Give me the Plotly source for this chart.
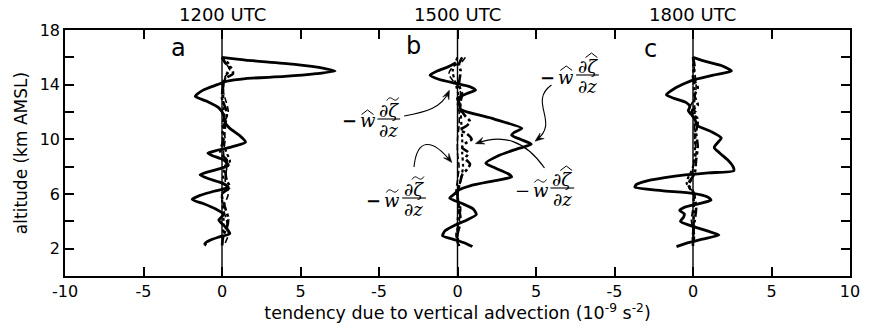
import plotly.graph_objects as go

# ---------------- data ----------------
panel_titles = ["1200 UTC", "1500 UTC", "1800 UTC"]
panel_letters = ["a", "b", "c"]

x_tick_vals = [-10, -5, 0, 5, 10, 15, 20, 25, 30, 35, 40]
x_tick_text = ["-10", "-5", "0", "5", "-5", "0", "5", "-5", "0", "5", "10"]
y_tick_vals = [2, 6, 10, 14, 18]
y_tick_text = ["2", "6", "10", "14", "18"]
y_minor_vals = [4, 8, 12, 16]

# panel a (1200 UTC)
a_hat_alt = [16.0, 15.8, 15.5, 15.2, 15.0, 14.8, 14.6, 14.45, 14.25, 14.0, 13.6, 13.15, 12.8, 12.3, 11.8,
             11.2, 10.8, 10.3, 9.8, 9.5, 9.2, 9.0, 8.8, 8.5, 8.1, 7.8, 7.4, 7.1, 6.8, 6.5, 6.2, 5.9, 5.6,
             5.3, 4.9, 4.5, 4.1, 3.6, 3.1, 2.85, 2.6, 2.35, 2.25]
a_hat_val = [0.0, 1.5, 4.5, 6.5, 7.2, 6.0, 4.0, 1.5, 0.3, -0.3, -1.2, -1.7, -1.0, -0.2, 0.1,
             0.2, 0.5, 1.1, 1.5, 0.8, -0.3, -0.9, -0.6, 0.1, 0.4, -0.3, -1.4, -0.8, 0.0, 0.4, -0.5, -1.4, -1.9,
             -1.2, -0.4, 0.1, -0.2, 0.2, 0.5, -0.2, -0.8, -1.1, -1.0]
a_wh_zt_alt = [16.0, 15.5, 15.0, 14.6, 14.0, 13.0, 12.0, 11.0, 10.0, 9.0, 8.0, 7.0, 6.0, 5.0, 4.0, 3.0, 2.2]
a_wh_zt_val = [0.0, 0.3, 0.5, 0.2, 0.0, 0.2, 0.4, 0.1, 0.2, 0.1, 0.3, 0.2, 0.4, 0.1, 0.3, 0.4, 0.1]
a_wt_zh_alt = [16.0, 15.6, 15.2, 14.8, 14.5, 14.0, 13.0, 12.0, 11.0, 10.0, 9.0, 8.5, 8.0, 7.0, 6.5, 6.0,
               5.0, 4.2, 3.5, 3.0, 2.2]
a_wt_zh_val = [0.0, 0.2, 0.6, 0.7, 0.3, 0.1, 0.0, 0.3, 0.2, 0.1, -0.1, 0.3, 0.2, 0.3, 0.5, 0.0,
               0.2, 0.4, 0.3, 0.1, 0.0]
a_wt_zt_alt = [16.0, 15.4, 14.8, 14.0, 12.0, 10.0, 9.0, 8.4, 8.0, 6.0, 4.0, 2.2]
a_wt_zt_val = [0.0, 0.5, 0.3, 0.1, 0.1, 0.05, 0.3, 0.5, 0.2, 0.0, 0.1, 0.0]

# panel b (1500 UTC)
b_hat_alt = [15.6, 15.3, 15.0, 14.7, 14.4, 14.1, 13.85, 13.6, 13.35, 13.0, 12.7, 12.2, 11.5, 10.8, 10.5,
             10.3, 10.0, 9.65, 9.3, 8.8, 8.25, 7.9, 7.5, 7.25, 7.0, 6.6, 6.3, 6.0, 5.7, 5.3, 4.9, 4.5, 4.1,
             3.7, 3.3, 2.95, 2.7, 2.4, 2.15]
b_hat_val = [-0.1, -0.6, -1.3, -1.75, -1.2, -0.1, 0.8, 1.15, 0.6, 0.0, 0.1, 0.2, 2.3, 4.1, 3.6,
             3.45, 4.0, 4.7, 3.8, 2.6, 1.8, 2.4, 3.2, 3.45, 2.5, 0.8, 0.1, -0.2, -0.5, 0.3, 1.0, 1.2, 0.6,
             -0.2, -0.8, -0.95, -0.3, 0.5, 0.95]
b_wh_zt_alt = [16.0, 15.7, 15.3, 14.8, 14.3, 13.8, 13.2, 12.6, 12.0, 11.0, 10.0, 9.0, 8.0, 7.0, 6.0, 5.0,
               4.0, 3.0, 2.2]
b_wh_zt_val = [0.5, 0.3, -0.3, -0.55, -0.3, 0.1, 0.2, 0.0, 0.1, 0.1, 0.0, 0.0, 0.1, 0.0, -0.1, 0.2,
               0.1, -0.1, 0.1]
b_wt_zh_alt = [16.0, 15.5, 15.0, 14.0, 13.3, 12.8, 12.2, 11.7, 11.3, 11.0, 10.7, 10.4, 10.0, 9.7, 9.4,
               9.0, 8.6, 8.2, 7.8, 7.4, 7.0, 6.0, 5.0, 4.0, 3.0, 2.2]
b_wt_zh_val = [0.3, 0.1, 0.2, 0.1, 0.3, 0.2, 0.2, 0.5, 0.8, 0.6, 0.2, 0.6, 0.9, 0.5, 0.3,
               0.7, 0.5, 0.8, 0.6, 0.3, 0.2, 0.0, 0.1, 0.2, 0.0, 0.1]
b_wt_zt_alt = [16.0, 15.0, 14.0, 13.0, 12.0, 11.0, 10.0, 9.0, 8.0, 7.0, 6.0, 5.0, 4.0, 3.0, 2.2]
b_wt_zt_val = [0.0, -0.3, -0.1, 0.1, 0.2, 0.25, 0.3, 0.3, 0.35, 0.2, 0.0, 0.1, 0.0, 0.0, 0.0]

# panel c (1800 UTC)
c_hat_alt = [16.0, 15.7, 15.4, 15.0, 14.7, 14.4, 14.1, 13.7, 13.25, 13.0, 12.7, 12.4, 12.1, 11.8, 11.5,
             11.0, 10.6, 10.1, 9.8, 9.4, 9.0, 8.5, 8.0, 7.7, 7.55, 7.4, 7.2, 7.0, 6.7, 6.5, 6.25, 6.05,
             5.8, 5.55, 5.3, 5.0, 4.8, 4.55, 4.3, 4.0, 3.7, 3.3, 3.0, 2.7, 2.4, 2.15]
c_hat_val = [0.0, 0.8, 1.8, 2.45, 1.3, 0.2, -0.5, -1.2, -1.7, -1.2, -0.45, -0.2, -0.3, -0.1, 0.1,
             0.3, 1.1, 1.8, 1.6, 1.35, 1.7, 2.2, 2.55, 2.6, 1.0, -0.5, -1.8, -2.8, -3.6, -3.7, -2.0, 0.0,
             0.9, 1.15, 0.4, -0.6, -0.85, -0.55, -0.6, -0.8, -0.2, 0.9, 1.65, 0.6, -0.4, -1.05]
c_wh_zt_alt = [16.0, 15.0, 14.0, 13.0, 12.3, 12.0, 11.5, 10.0, 9.0, 8.0, 7.0, 6.6, 6.0, 5.0, 4.0, 3.0, 2.2]
c_wh_zt_val = [0.0, 0.1, 0.2, 0.1, -0.2, 0.2, 0.1, 0.1, 0.2, 0.0, -0.1, -0.3, 0.1, 0.0, -0.1, 0.1, 0.0]
c_wt_zh_alt = [16.0, 15.3, 14.5, 13.8, 13.2, 12.5, 12.0, 11.5, 10.5, 9.5, 8.5, 7.5, 6.7, 6.2, 5.0, 4.0,
               3.0, 2.2]
c_wt_zh_val = [0.0, 0.1, 0.0, 0.3, 0.1, 0.3, -0.1, 0.3, 0.2, 0.3, 0.2, 0.1, -0.3, 0.0, 0.2, 0.1,
               0.0, 0.0]
c_wt_zt_alt = [16.0, 14.0, 12.0, 10.0, 8.0, 6.8, 6.0, 4.0, 2.2]
c_wt_zt_val = [0.0, 0.05, 0.1, 0.15, 0.0, -0.4, 0.0, 0.05, 0.0]

# ---------------- figure ----------------
W, H = 872, 335
ML, MR, MT, MB = 65, 13, 30, 59
PW, PH = W - ML - MR, H - MT - MB


def xp(px):
    return (px - ML) / PW


def yp(py):
    return (H - MB - py) / PH


fig = go.Figure()

panels = [
    ("x", a_hat_alt, a_hat_val, a_wh_zt_alt, a_wh_zt_val, a_wt_zh_alt, a_wt_zh_val, a_wt_zt_alt, a_wt_zt_val),
    ("x2", b_hat_alt, b_hat_val, b_wh_zt_alt, b_wh_zt_val, b_wt_zh_alt, b_wt_zh_val, b_wt_zt_alt, b_wt_zt_val),
    ("x3", c_hat_alt, c_hat_val, c_wh_zt_alt, c_wh_zt_val, c_wt_zh_alt, c_wt_zh_val, c_wt_zt_alt, c_wt_zt_val),
]

for xa, h_alt, h_val, s2a, s2v, s3a, s3v, s4a, s4v in panels:
    fig.add_trace(go.Scatter(x=s4v, y=s4a, xaxis=xa, yaxis="y", mode="lines",
                             line=dict(color="black", width=2.2, dash="dot", shape="spline", smoothing=0.8),
                             showlegend=False, hoverinfo="skip"))
    fig.add_trace(go.Scatter(x=s2v, y=s2a, xaxis=xa, yaxis="y", mode="lines",
                             line=dict(color="black", width=1.6, dash="6px,3px", shape="spline", smoothing=0.8),
                             showlegend=False, hoverinfo="skip"))
    fig.add_trace(go.Scatter(x=s3v, y=s3a, xaxis=xa, yaxis="y", mode="lines",
                             line=dict(color="black", width=2.6, dash="dashdot", shape="spline", smoothing=0.8),
                             showlegend=False, hoverinfo="skip"))
    fig.add_trace(go.Scatter(x=h_val, y=h_alt, xaxis=xa, yaxis="y", mode="lines",
                             line=dict(color="black", width=2.8, shape="spline", smoothing=0.6),
                             showlegend=False, hoverinfo="skip"))

font_sans = "DejaVu Sans, Liberation Sans, Arial, sans-serif"
font_serif = "DejaVu Serif, Liberation Serif, serif"

fig.update_layout(
    width=W, height=H,
    margin=dict(l=ML, r=MR, t=MT, b=MB),
    paper_bgcolor="white", plot_bgcolor="white",
    font=dict(family=font_sans, size=16, color="black"),
    hovermode=False,
    xaxis=dict(range=[-10, 40], tickvals=x_tick_vals, ticktext=x_tick_text,
               ticks="inside", ticklen=9, tickwidth=1.5, tickcolor="black",
               showline=True, linecolor="black", linewidth=1.5, mirror="ticks",
               showgrid=False, zeroline=False,
               title=dict(text="tendency due to vertical advection (10<sup>-9</sup> s<sup>-2</sup>)",
                          font=dict(size=17.5), standoff=5)),
    xaxis2=dict(range=[-25, 25], overlaying="x", visible=False),
    xaxis3=dict(range=[-40, 10], overlaying="x", visible=False),
    yaxis=dict(range=[0, 18], tickvals=y_tick_vals, ticktext=y_tick_text,
               ticks="inside", ticklen=9, tickwidth=1.5, tickcolor="black",
               minor=dict(tickvals=y_minor_vals, ticks="inside", ticklen=9, tickwidth=1.5,
                          tickcolor="black", showgrid=False),
               showline=True, linecolor="black", linewidth=1.5, mirror="ticks",
               showgrid=False, zeroline=False,
               title=dict(text="altitude (km AMSL)", font=dict(size=17), standoff=8)),
)

# zero lines of each panel
for xa in ["x", "x2", "x3"]:
    fig.add_shape(type="line", xref=xa, yref="paper", x0=0, x1=0, y0=0, y1=1,
                  line=dict(color="black", width=1.4))

# panel titles and letters
title_px = [224, 462, 700]
letter_pos = [(180, 48), (417, 46), (657, 49)]
for t, cx in zip(panel_titles, title_px):
    fig.add_annotation(text=t, x=xp(cx), y=yp(14), xref="paper", yref="paper",
                       showarrow=False, font=dict(size=18), xanchor="center", yanchor="middle")
for l, (lx, ly) in zip(panel_letters, letter_pos):
    fig.add_annotation(text=l, x=xp(lx), y=yp(ly), xref="paper", yref="paper",
                       showarrow=False, font=dict(size=24), xanchor="center", yanchor="middle")


def pxpath(points, close=False):
    s = "M " + " L ".join("{:.5f},{:.5f}".format(xp(a), yp(b)) for a, b in points)
    return s + (" Z" if close else "")


def accent(kind, cx, cy, half):
    if kind == "hat":
        path = pxpath([(cx - half, cy + 2.5), (cx, cy - 2), (cx + half, cy + 2.5)])
    else:
        path = "M {:.5f},{:.5f} C {:.5f},{:.5f} {:.5f},{:.5f} {:.5f},{:.5f} S {:.5f},{:.5f} {:.5f},{:.5f}".format(
            xp(cx - half), yp(cy + 1.5), xp(cx - half * 0.6), yp(cy - 2.5), xp(cx - half * 0.25), yp(cy - 1),
            xp(cx), yp(cy), xp(cx + half * 0.6), yp(cy + 2.5), xp(cx + half), yp(cy - 1.5))
    fig.add_shape(type="path", xref="paper", yref="paper", path=path,
                  line=dict(color="black", width=1.0))


# math labels in panel b
def math_label(bold_minus, w_acc, z_acc, frac_left, frac_right, bar_y):
    num_y, den_y, pre_y = bar_y - 9, bar_y + 11, bar_y + 2
    minus = "<b>−</b>" if bold_minus else "−"
    fig.add_annotation(text=minus, x=xp(frac_left - 19), y=yp(pre_y), xref="paper", yref="paper",
                       showarrow=False, font=dict(family=font_serif, size=18),
                       xanchor="right", yanchor="middle")
    fig.add_annotation(text="<i>w</i>", x=xp(frac_left - 10), y=yp(pre_y), xref="paper", yref="paper",
                       showarrow=False, font=dict(family=font_serif, size=18),
                       xanchor="center", yanchor="middle")
    accent(w_acc, frac_left - 10, pre_y - 9, 6)
    cx = (frac_left + frac_right) / 2
    fig.add_annotation(text="<i>∂ζ</i>", x=xp(cx), y=yp(num_y), xref="paper", yref="paper",
                       showarrow=False, font=dict(family=font_serif, size=18),
                       xanchor="center", yanchor="middle")
    accent(z_acc, cx + 4, num_y - 11, 6)
    fig.add_annotation(text="<i>∂z</i>", x=xp(cx), y=yp(den_y), xref="paper", yref="paper",
                       showarrow=False, font=dict(family=font_serif, size=18),
                       xanchor="center", yanchor="middle")
    fig.add_shape(type="line", xref="paper", yref="paper", x0=xp(frac_left), x1=xp(frac_right),
                  y0=yp(bar_y), y1=yp(bar_y), line=dict(color="black", width=1.1))


math_label(True, "hat", "tilde", 381, 404, 119)
math_label(True, "tilde", "tilde", 406, 430, 198)
math_label(True, "hat", "hat", 582, 605, 75)
math_label(False, "tilde", "hat", 556, 580, 188)


def curve(p0, c1, c2, p3):
    path = "M {:.5f},{:.5f} C {:.5f},{:.5f} {:.5f},{:.5f} {:.5f},{:.5f}".format(
        xp(p0[0]), yp(p0[1]), xp(c1[0]), yp(c1[1]), xp(c2[0]), yp(c2[1]), xp(p3[0]), yp(p3[1]))
    fig.add_shape(type="path", xref="paper", yref="paper", path=path,
                  line=dict(color="black", width=1.1))
    dx, dy = p3[0] - c2[0], p3[1] - c2[1]
    n = (dx * dx + dy * dy) ** 0.5
    ux, uy = dx / n, dy / n
    L, Wd = 9, 3.5
    tip = (p3[0] + ux * 2, p3[1] + uy * 2)
    base = (tip[0] - ux * L, tip[1] - uy * L)
    notch = (tip[0] - ux * L * 0.6, tip[1] - uy * L * 0.6)
    pts = [tip, (base[0] - uy * Wd, base[1] + ux * Wd), notch, (base[0] + uy * Wd, base[1] - ux * Wd)]
    fig.add_shape(type="path", xref="paper", yref="paper", path=pxpath(pts, close=True),
                  fillcolor="black", line=dict(color="black", width=0.5))


curve((408, 116), (430, 112), (446, 108), (453, 92))
curve((418, 167), (421, 138), (436, 138), (455, 161))
curve((557, 85), (533, 102), (566, 122), (542, 140))
curve((550, 168), (530, 140), (508, 134), (482, 143))

fig.write_html("out.html", config={"displayModeBar": False, "responsive": False},
               post_script="document.body.style.margin='0';document.body.style.overflow='hidden';")
